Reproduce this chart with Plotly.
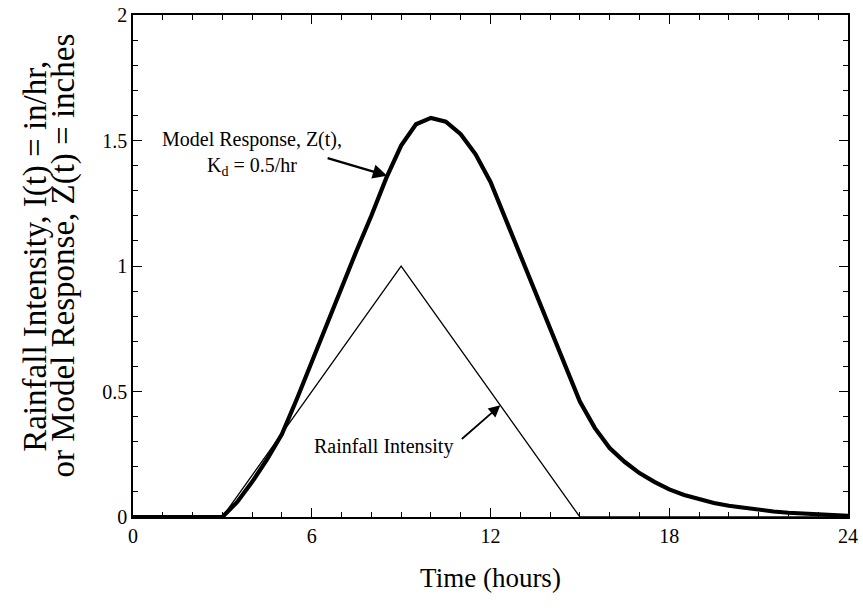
import plotly.graph_objects as go

# Rainfall intensity I(t), in/hr (triangular hyetograph)
rain_t = [0, 3, 9, 15, 24]
rain_i = [0, 0, 1.0, 0, 0]

# Model response Z(t), inches, Kd = 0.5/hr (half-hour steps)
resp_t = [0, 1, 2, 3, 3.5, 4, 4.5, 5, 5.5, 6, 6.5, 7, 7.5, 8, 8.5, 9, 9.5, 10,
          10.5, 11, 11.5, 12, 12.5, 13, 13.5, 14, 14.5, 15, 15.5, 16, 16.5, 17,
          17.5, 18, 18.5, 19, 19.5, 20, 20.5, 21, 21.5, 22, 22.5, 23, 23.5, 24]
resp_z = [0, 0, 0, 0, 0.06, 0.14, 0.23, 0.33, 0.47, 0.62, 0.77, 0.92, 1.06, 1.20,
          1.35, 1.48, 1.565, 1.59, 1.575, 1.525, 1.445, 1.335, 1.19, 1.04, 0.90,
          0.76, 0.61, 0.46, 0.355, 0.275, 0.22, 0.175, 0.14, 0.11, 0.088, 0.07,
          0.056, 0.045, 0.036, 0.028, 0.022, 0.017, 0.013, 0.01, 0.007, 0.005]

x_ticks = [0, 6, 12, 18, 24]
y_ticks = [0, 0.5, 1, 1.5, 2]
y_tick_text = ["0", "0.5", "1", "1.5", "2"]

FONT = "Liberation Serif"

fig = go.Figure()
fig.add_trace(go.Scatter(x=rain_t, y=rain_i, mode="lines",
                         line=dict(color="black", width=1.3), showlegend=False,
                         hoverinfo="skip"))
fig.add_trace(go.Scatter(x=resp_t, y=resp_z, mode="lines",
                         line=dict(color="black", width=4.2), showlegend=False,
                         hoverinfo="skip"))

axis_common = dict(showline=True, linecolor="black", linewidth=1.5, mirror="allticks",
                   ticks="inside", ticklen=9, tickwidth=1.3, tickcolor="black",
                   showgrid=False, zeroline=False, ticklabeloverflow="allow",
                   tickfont=dict(family=FONT, size=20, color="black"))

fig.update_xaxes(range=[0, 24], tickvals=x_ticks, ticktext=[str(v) for v in x_ticks],
                 minor=dict(dtick=1, ticks="inside", ticklen=5, tickwidth=1.2, tickcolor="black"),
                 title=dict(text="Time (hours)", font=dict(family=FONT, size=27, color="black"),
                            standoff=22),
                 **axis_common)
fig.update_yaxes(range=[0, 2], tickvals=y_ticks, ticktext=y_tick_text,
                 minor=dict(dtick=0.1, ticks="inside", ticklen=5, tickwidth=1.2, tickcolor="black"),
                 **axis_common)

# Y-axis title as two tightly spaced rotated lines
fig.add_annotation(text="Rainfall Intensity, I(t) = in/hr,",
                   xref="paper", yref="paper", x=-0.136, y=0.52, textangle=-90,
                   showarrow=False, xanchor="center", yanchor="middle",
                   font=dict(family=FONT, size=33, color="black"))
fig.add_annotation(text="or Model Response, Z(t) = inches",
                   xref="paper", yref="paper", x=-0.097, y=0.52, textangle=-90,
                   showarrow=False, xanchor="center", yanchor="middle",
                   font=dict(family=FONT, size=33, color="black"))

# Arrow + label for model response
fig.add_annotation(x=8.53, y=1.36, ax=-61, ay=-18, text="", showarrow=True,
                   arrowhead=2, arrowsize=1.3, arrowwidth=2.2, arrowcolor="black")
fig.add_annotation(x=4.0, y=1.45, text="Model Response, Z(t),<br>K<sub>d</sub> = 0.5/hr",
                   showarrow=False, xanchor="center", yanchor="middle",
                   font=dict(family=FONT, size=20, color="black"))

# Arrow + label for rainfall
fig.add_annotation(x=12.33, y=0.445, ax=-40, ay=35, text="", showarrow=True,
                   arrowhead=2, arrowsize=1.3, arrowwidth=1.8, arrowcolor="black")
fig.add_annotation(x=8.4, y=0.28, text="Rainfall Intensity",
                   showarrow=False, xanchor="center", yanchor="middle",
                   font=dict(family=FONT, size=20, color="black"))

fig.update_layout(width=863, height=610, plot_bgcolor="white", paper_bgcolor="white",
                  margin=dict(l=133, r=15, t=15, b=93, autoexpand=False),
                  font=dict(family=FONT, color="black"), hovermode=False)

# Remove the default page margin so the 863x610 figure fills the window exactly
fig.write_html("out.html", config={"displayModeBar": False},
               post_script="document.body.style.margin='0';document.body.style.overflow='hidden';")
